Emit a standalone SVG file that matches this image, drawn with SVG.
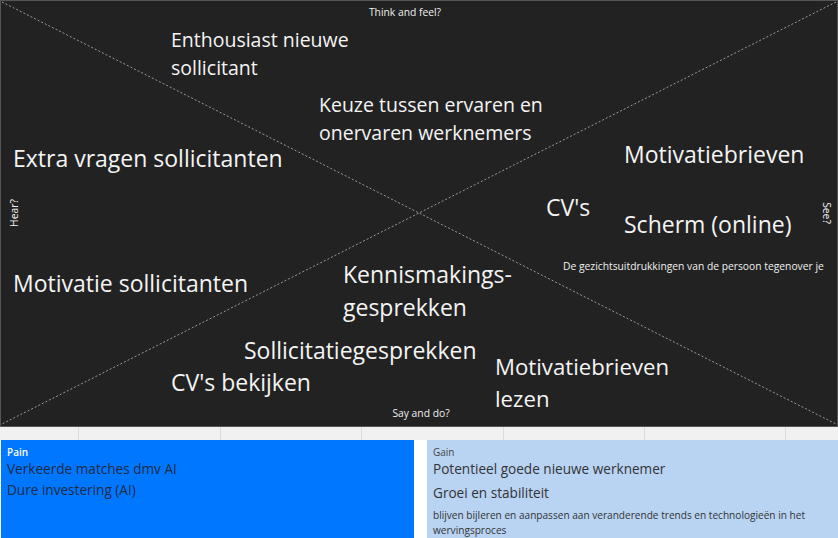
<svg xmlns="http://www.w3.org/2000/svg" width="838" height="538" viewBox="0 0 838 538">
<style>
text{font-family:"Open Sans","Liberation Sans",sans-serif}
.big{font-size:23px;fill:#f4f4f4}
.med{font-size:19.5px;fill:#f4f4f4}
.small{font-size:10.3px;fill:#f0f0f0}
.diag{stroke:#9a9a9a;stroke-width:1;stroke-dasharray:2 2;fill:none}
.grid{stroke:#dcdcdc;stroke-width:1}
.mid{font-size:13.6px;fill:#1d2b44}
.mid2{font-size:13.6px;fill:#333}
.tiny{font-size:10.1px;fill:#333}
</style>
<rect x="0" y="0" width="838" height="538" fill="#ffffff"/>
<rect x="0" y="427" width="838" height="13" fill="#f1f1f1"/>
<g id="grid">
<line class="grid" x1="78.5" y1="427" x2="78.5" y2="440"/>
<line class="grid" x1="220.5" y1="427" x2="220.5" y2="440"/>
<line class="grid" x1="361.5" y1="427" x2="361.5" y2="440"/>
<line class="grid" x1="503.5" y1="427" x2="503.5" y2="440"/>
<line class="grid" x1="644.5" y1="427" x2="644.5" y2="440"/>
<line class="grid" x1="785.5" y1="427" x2="785.5" y2="440"/>
</g>
<g id="map">
<rect x="0.5" y="0.5" width="837" height="426" fill="#222222" stroke="#555" stroke-width="1"/>
</g>
<g id="connectors">
<line class="diag" x1="2" y1="2" x2="836" y2="424"/>
<line class="diag" x1="836" y1="2" x2="2" y2="424"/>
</g>
<g id="labels">
<text class="small" x="405" y="16" text-anchor="middle">Think and feel?</text>
<text class="small" x="421" y="417" text-anchor="middle">Say and do?</text>
<text class="small" transform="translate(18,213) rotate(-90)" text-anchor="middle">Hear?</text>
<text class="small" transform="translate(823,213) rotate(90)" text-anchor="middle">See?</text>
</g>
<g id="think">
<text class="med" x="171" y="47">Enthousiast nieuwe</text>
<text class="med" x="171" y="75">sollicitant</text>
<text class="med" x="319" y="112">Keuze tussen ervaren en</text>
<text class="med" x="319" y="140">onervaren werknemers</text>
</g>
<g id="hear">
<text class="big" x="13" y="167">Extra vragen sollicitanten</text>
<text class="big" x="13" y="292">Motivatie sollicitanten</text>
</g>
<g id="see">
<text class="big" x="624" y="163">Motivatiebrieven</text>
<text class="big" x="546" y="216">CV's</text>
<text class="big" x="624" y="233">Scherm (online)</text>
<text class="small" x="563" y="270">De gezichtsuitdrukkingen van de persoon tegenover je</text>
</g>
<g id="say">
<text class="big" x="343" y="283">Kennismakings-</text>
<text class="big" x="343" y="316">gesprekken</text>
<text class="big" x="244" y="359">Sollicitatiegesprekken</text>
<text class="big" x="171" y="391">CV's bekijken</text>
<text class="big" x="495" y="375" style="font-size:22.2px">Motivatiebrieven</text>
<text class="big" x="495" y="407" style="font-size:22.2px">lezen</text>
</g>
<g id="pain">
<rect x="1" y="440" width="413" height="98" fill="#0077ff"/>
<text x="7" y="456" style="font-size:10px;fill:#ffffff;font-weight:600">Pain</text>
<text class="mid" x="7" y="474">Verkeerde matches dmv AI</text>
<text class="mid" x="7" y="495">Dure investering (AI)</text>
</g>
<g id="gain">
<rect x="427" y="440" width="411" height="98" fill="#b9d3f3"/>
<text x="433" y="456" style="font-size:10px;fill:#444">Gain</text>
<text class="mid2" x="433" y="474">Potentieel goede nieuwe werknemer</text>
<text class="mid2" x="433" y="498">Groei en stabiliteit</text>
<text class="tiny" x="433" y="519">blijven bijleren en aanpassen aan veranderende trends en technologieën in het</text>
<text class="tiny" x="433" y="534">wervingsproces</text>
</g>
</svg>
